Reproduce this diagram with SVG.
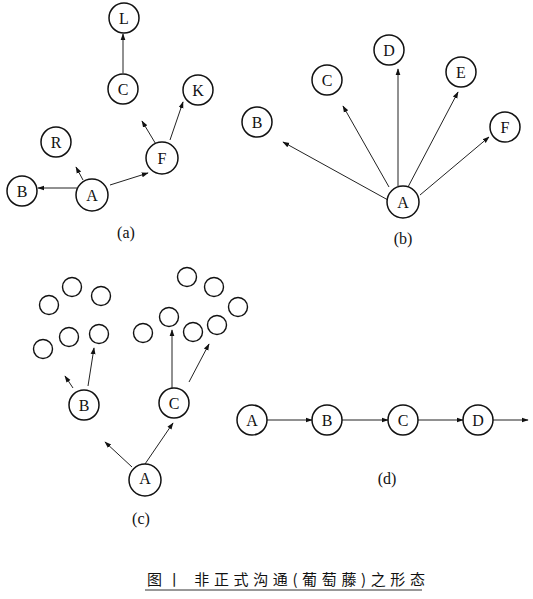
<svg xmlns="http://www.w3.org/2000/svg" width="533" height="599" viewBox="0 0 533 599">
<style>
.n{fill:#fff;stroke:#111;stroke-width:1.5}
.s{fill:#fff;stroke:#111;stroke-width:1.4}
.t{font-family:"Liberation Serif",serif;font-size:16px;fill:#111;text-anchor:middle;dominant-baseline:central}
.e{stroke:#222;stroke-width:1;fill:none;marker-end:url(#ah)}
.cap{font-family:"Noto Sans CJK SC","Liberation Serif",serif;font-size:15px;fill:#111}
</style>
<defs>
<marker id="ah" viewBox="0 0 10 10" refX="9" refY="5" markerWidth="7" markerHeight="7" orient="auto" markerUnits="userSpaceOnUse">
<path d="M0,1.5 L10,5 L0,8.5 Z" fill="#111"/>
</marker>
</defs>
<rect width="533" height="599" fill="#fff"/>
<g id="connectors">
<line class="e" x1="123" y1="73" x2="123" y2="34"/>
<line class="e" x1="77" y1="188" x2="38" y2="188"/>
<line class="e" x1="83" y1="180" x2="76" y2="167"/>
<line class="e" x1="110" y1="185" x2="148" y2="173"/>
<line class="e" x1="157" y1="146" x2="142" y2="121"/>
<line class="e" x1="170" y1="140" x2="183" y2="102"/>
<line class="e" x1="388" y1="200" x2="283" y2="142"/>
<line class="e" x1="389" y1="187" x2="343" y2="106"/>
<line class="e" x1="398" y1="186" x2="398" y2="69"/>
<line class="e" x1="408" y1="187" x2="458" y2="92"/>
<line class="e" x1="420" y1="195" x2="489" y2="137"/>
<line class="e" x1="73" y1="388" x2="65" y2="376"/>
<line class="e" x1="88" y1="386" x2="94" y2="348"/>
<line class="e" x1="172" y1="388" x2="172" y2="330"/>
<line class="e" x1="189" y1="382" x2="209" y2="344"/>
<line class="e" x1="132" y1="467" x2="105" y2="442"/>
<line class="e" x1="145" y1="464" x2="173" y2="423"/>
<line class="e" x1="267" y1="420" x2="312" y2="420"/>
<line class="e" x1="342" y1="420" x2="388" y2="420"/>
<line class="e" x1="418" y1="420" x2="463" y2="420"/>
<line class="e" x1="493" y1="420" x2="528" y2="420"/>
</g>
<g id="a-L"><circle class="n" cx="124" cy="18" r="15"/><text class="t" x="124" y="18">L</text></g>
<g id="a-C"><circle class="n" cx="123" cy="89" r="15"/><text class="t" x="123" y="89">C</text></g>
<g id="a-K"><circle class="n" cx="198" cy="90" r="15"/><text class="t" x="198" y="90">K</text></g>
<g id="a-R"><circle class="n" cx="56" cy="142" r="15"/><text class="t" x="56" y="142">R</text></g>
<g id="a-F"><circle class="n" cx="162" cy="158" r="16"/><text class="t" x="162" y="158">F</text></g>
<g id="a-B"><circle class="n" cx="22" cy="191" r="15"/><text class="t" x="22" y="191">B</text></g>
<g id="a-A"><circle class="n" cx="92" cy="195" r="16"/><text class="t" x="92" y="195">A</text></g>
<text class="t" x="126" y="232">(a)</text>
<g id="b-D"><circle class="n" cx="389" cy="50" r="15"/><text class="t" x="389" y="50">D</text></g>
<g id="b-C"><circle class="n" cx="327" cy="80" r="15"/><text class="t" x="327" y="80">C</text></g>
<g id="b-E"><circle class="n" cx="461" cy="72" r="15"/><text class="t" x="461" y="72">E</text></g>
<g id="b-B"><circle class="n" cx="257" cy="122" r="15"/><text class="t" x="257" y="122">B</text></g>
<g id="b-F"><circle class="n" cx="505" cy="127" r="15"/><text class="t" x="505" y="127">F</text></g>
<g id="b-A"><circle class="n" cx="403" cy="202" r="16"/><text class="t" x="403" y="202">A</text></g>
<text class="t" x="403" y="238">(b)</text>
<g id="c-s1"><circle class="s" cx="49" cy="305" r="9.5"/></g>
<g id="c-s2"><circle class="s" cx="72" cy="287" r="9.5"/></g>
<g id="c-s3"><circle class="s" cx="101" cy="296" r="9.5"/></g>
<g id="c-s4"><circle class="s" cx="43" cy="349" r="9.5"/></g>
<g id="c-s5"><circle class="s" cx="69" cy="337" r="9.5"/></g>
<g id="c-s6"><circle class="s" cx="99" cy="334" r="9.5"/></g>
<g id="c-s7"><circle class="s" cx="187" cy="277" r="9.5"/></g>
<g id="c-s8"><circle class="s" cx="214" cy="287" r="9.5"/></g>
<g id="c-s9"><circle class="s" cx="238" cy="307" r="9.5"/></g>
<g id="c-s10"><circle class="s" cx="143" cy="333" r="9.5"/></g>
<g id="c-s11"><circle class="s" cx="169" cy="317" r="9.5"/></g>
<g id="c-s12"><circle class="s" cx="193" cy="332" r="9.5"/></g>
<g id="c-s13"><circle class="s" cx="217" cy="325" r="9.5"/></g>
<g id="c-B"><circle class="n" cx="84" cy="405" r="15"/><text class="t" x="84" y="405">B</text></g>
<g id="c-C"><circle class="n" cx="174" cy="403" r="15"/><text class="t" x="174" y="403">C</text></g>
<g id="c-A"><circle class="n" cx="145" cy="480" r="16"/><text class="t" x="145" y="478">A</text></g>
<text class="t" x="141" y="518">(c)</text>
<g id="d-A"><circle class="n" cx="252" cy="420" r="15"/><text class="t" x="252" y="420">A</text></g>
<g id="d-B"><circle class="n" cx="327" cy="420" r="15"/><text class="t" x="327" y="420">B</text></g>
<g id="d-C"><circle class="n" cx="403" cy="420" r="15"/><text class="t" x="403" y="420">C</text></g>
<g id="d-D"><circle class="n" cx="478" cy="420" r="15"/><text class="t" x="478" y="420">D</text></g>
<text class="t" x="387" y="478">(d)</text>
<text class="cap" x="147" y="585" textLength="278" lengthAdjust="spacing">图丨 非正式沟通(葡萄藤)之形态</text>
<line x1="145" y1="590" x2="422" y2="590" stroke="#333" stroke-width="1"/>
</svg>
